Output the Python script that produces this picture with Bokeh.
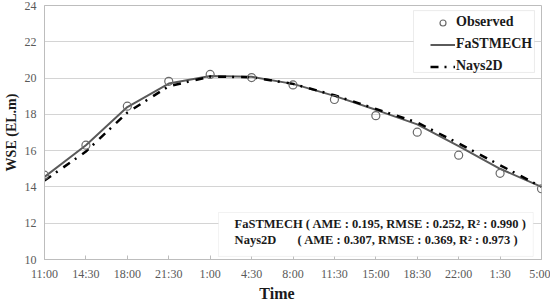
from bokeh.plotting import figure
from bokeh.models import (ColumnDataSource, FixedTicker, Legend, LegendItem,
                          BoxAnnotation, Label)
from bokeh.embed import file_html
from bokeh.resources import INLINE

# Water surface elevation over one flood event
times = ["11:00", "14:30", "18:00", "21:30", "1:00", "4:30", "8:00",
         "11:30", "15:00", "18:30", "22:00", "1:30", "5:00"]
observed = [14.65, 16.30, 18.45, 19.82, 20.20, 20.03, 19.62,
            18.82, 17.93, 17.02, 15.75, 14.75, 13.90]
fastmech = [14.55, 16.30, 18.40, 19.70, 20.12, 20.07, 19.68,
            19.02, 18.25, 17.45, 16.25, 15.00, 14.00]
nays2d = [14.35, 15.95, 18.10, 19.55, 20.08, 20.05, 19.68,
          19.05, 18.30, 17.55, 16.40, 15.20, 14.00]
y_ticks = [10, 12, 14, 16, 18, 20, 22, 24]

stats_fastmech = "FaSTMECH ( AME : 0.195, RMSE : 0.252, R\u00b2 : 0.990 )"
stats_nays_name = "Nays2D"
stats_nays = "( AME : 0.307, RMSE : 0.369, R\u00b2 : 0.973 )"

SERIF = "Liberation Serif"
idx = list(range(len(times)))
src = ColumnDataSource(dict(x=idx, obs=observed, fm=fastmech, nd=nays2d))

p = figure(width=550, height=304, output_backend="svg", toolbar_location=None,
           x_range=(0, len(times) - 1), y_range=(10, 24),
           min_border_left=44, min_border_right=9, min_border_top=5,
           min_border_bottom=45)
p.background_fill_color = "white"
p.border_fill_color = "white"
p.outline_line_color = "#bdbdbd"
p.outline_line_width = 1

# axes
xa = p.xaxis[0]
xa.ticker = FixedTicker(ticks=idx)
xa.major_label_overrides = {i: t for i, t in enumerate(times)}
xa.minor_tick_line_color = None
xa.major_tick_in = 4
xa.major_tick_out = 0
xa.major_tick_line_color = "#bdbdbd"
xa.axis_line_color = "#bdbdbd"
xa.major_label_text_font = SERIF
xa.major_label_text_font_size = "12px"
xa.major_label_text_color = "#595959"
xa.major_label_standoff = 7
# trailing no-break spaces nudge the title a little left of centre
xa.axis_label = "Time" + "\u00a0" * 8
xa.axis_label_text_font = SERIF
xa.axis_label_text_font_size = "16px"
xa.axis_label_text_font_style = "bold"
xa.axis_label_text_color = "#1a1a1a"
xa.axis_label_standoff = 1

ya = p.yaxis[0]
ya.ticker = FixedTicker(ticks=y_ticks)
ya.minor_tick_line_color = None
ya.major_tick_in = 0
ya.major_tick_out = 0
ya.axis_line_color = "#bdbdbd"
ya.major_label_text_font = SERIF
ya.major_label_text_font_size = "12px"
ya.major_label_text_color = "#595959"
ya.major_label_standoff = 8
ya.axis_label = "WSE (EL.m)"
ya.axis_label_text_font = SERIF
ya.axis_label_text_font_size = "14px"
ya.axis_label_text_font_style = "bold"
ya.axis_label_text_color = "#1a1a1a"
ya.axis_label_standoff = 3

p.xgrid.grid_line_color = None
p.ygrid.grid_line_color = "#d4d4d4"
p.ygrid.grid_line_width = 1

# series
r_fm = p.line("x", "fm", source=src, line_color="#5a5a5a", line_width=2)
r_nd = p.line("x", "nd", source=src, line_color="black", line_width=2.5,
              line_dash="8 6 2 7")
r_obs = p.scatter("x", "obs", source=src, marker="circle", size=8,
                  line_color="#6a6a6a", line_width=1.2, fill_alpha=0)

# legend frame and statistics frame
p.add_layout(BoxAnnotation(left=8.91, right=11.83, top=23.72, bottom=20.31,
                           fill_color="white", fill_alpha=1,
                           line_color="#bdbdbd", line_width=1))
p.add_layout(BoxAnnotation(left=4.20, right=11.80, top=12.59, bottom=10.17,
                           fill_color="white", fill_alpha=1,
                           line_color="#d4d4d4", line_width=1))

legend = Legend(items=[LegendItem(label="Observed", renderers=[r_obs]),
                       LegendItem(label="FaSTMECH", renderers=[r_fm]),
                       LegendItem(label="Nays2D", renderers=[r_nd])],
                location=(386, 185), padding=0, margin=0, spacing=6,
                glyph_width=25, glyph_height=15, label_height=15,
                label_standoff=1, border_line_alpha=0,
                background_fill_alpha=0,
                label_text_font=SERIF, label_text_font_size="14px",
                label_text_font_style="bold", label_text_color="#1a1a1a")
p.add_layout(legend)

for x, y, t in [(4.59, 11.98, stats_fastmech), (4.59, 11.05, stats_nays_name),
                (6.11, 11.05, stats_nays)]:
    p.add_layout(Label(x=x, y=y, text=t, text_font=SERIF,
                       text_font_size="12.5px", text_font_style="bold",
                       text_color="#1a1a1a", text_baseline="middle"))

open("out.html", "w").write(file_html(p, INLINE))
